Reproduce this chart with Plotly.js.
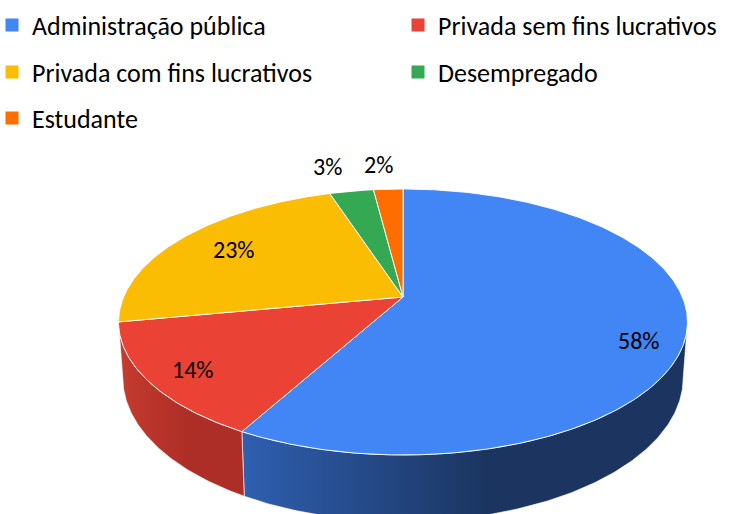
<!DOCTYPE html>
<html>
<head>
<meta charset="utf-8">
<script src="https://cdn.plot.ly/plotly-3.0.1.min.js"></script>
<style>html,body{margin:0;padding:0;background:#fff;}#chart{width:731px;height:514px;}</style>
</head>
<body>
<div id="chart"></div>
<script>
// ---- data ----
const categories = ['Administração pública', 'Privada sem fins lucrativos', 'Privada com fins lucrativos', 'Desempregado', 'Estudante'];
const values = [58, 14, 23, 3, 2];

// ---- styles / layout config ----
const colors = ['#4285F4', '#EA4335', '#FBBC04', '#34A853', '#FF6D01'];
const sideColors = [['#2F5FB0', '#1B3560'], ['#C63B2F', '#AD2E26'], ['#C99700', '#A07800'], ['#2A8744', '#216B36'], ['#CC5700', '#A34600']];
const legendPos = [[-8, 25], [398, 25], [-8, 72], [398, 72], [-8, 118]]; // px of each legend entry
const labelNudge = [[5, 8], [-7, -4], [13, -5], [0, 0], [0, 0]];        // px fine-tuning of in-slice labels
const W = 731, H = 514;

// ---- 3D pie geometry (perspective view of a tilted disk) ----
const geo = {x0: 403, y0: 297, A: 279.4, B: 128.3, k: 0.188, depth: 54, bottomScale: 0.985};
function proj(r, theta, drop, scale) {
  const u = r * Math.sin(theta), v = r * Math.cos(theta);
  const w = 1 + geo.k * v;
  return [geo.x0 + geo.A * scale * u / w, geo.y0 - geo.B * v / w + drop / w];
}
function arc(t0, t1, drop, scale) {
  const n = Math.max(4, Math.ceil(Math.abs(t1 - t0) / 0.01));
  const pts = [];
  for (let i = 0; i <= n; i++) pts.push(proj(1, t0 + (t1 - t0) * i / n, drop, scale));
  return pts;
}

const total = values.reduce((a, b) => a + b, 0);
const starts = [], ends = [];
let acc = 0;
values.forEach(v => { starts.push(acc / total * 2 * Math.PI); acc += v; ends.push(acc / total * 2 * Math.PI); });

const traces = [];
// visible side (front half)
const tRight = Math.acos(-geo.k), tLeft = 2 * Math.PI - Math.acos(-geo.k);
values.forEach((v, i) => {
  const a = Math.max(starts[i], tRight), b = Math.min(ends[i], tLeft);
  if (b <= a) return;
  const top = arc(a, b, 0, 1);
  const bot = arc(b, a, geo.depth, geo.bottomScale);
  const pts = top.concat(bot);
  pts.push(top[0]);
  traces.push({
    type: 'scatter', mode: 'lines', x: pts.map(p => p[0]), y: pts.map(p => p[1]),
    fill: 'toself', fillcolor: sideColors[i][0],
    fillgradient: {type: 'horizontal', colorscale: [[0, sideColors[i][0]], [0.55, sideColors[i][1]], [1, sideColors[i][1]]]},
    line: {color: 'rgba(255,255,255,0.8)', width: 0.8},
    hoverinfo: 'skip', showlegend: false
  });
});
// top face slices
values.forEach((v, i) => {
  const pts = [[geo.x0, geo.y0]].concat(arc(starts[i], ends[i], 0, 1));
  pts.push([geo.x0, geo.y0]);
  traces.push({
    type: 'scatter', mode: 'lines', x: pts.map(p => p[0]), y: pts.map(p => p[1]),
    fill: 'toself', fillcolor: colors[i],
    line: {color: 'rgba(255,255,255,0.9)', width: 1},
    hoverinfo: 'skip', showlegend: false
  });
});

const font = 'Carlito, Lato, sans-serif';
// legend entries: one legend per entry so they sit in the reference's grid
const layoutLegends = {};
categories.forEach((c, i) => {
  const id = i === 0 ? 'legend' : 'legend' + (i + 1);
  traces.push({
    type: 'scatter', mode: 'markers', x: [null], y: [null], name: c,
    marker: {symbol: 'square', size: 13, color: colors[i]},
    legend: id, hoverinfo: 'skip'
  });
  layoutLegends[id] = {
    orientation: 'h', x: legendPos[i][0] / W, xanchor: 'left', y: 1 - legendPos[i][1] / H, yanchor: 'middle',
    font: {family: font, size: 26, color: '#000'}, bgcolor: 'rgba(0,0,0,0)', borderwidth: 0,
    itemclick: false, itemdoubleclick: false
  };
});

// data labels
const annotations = [];
const outside = [];
values.forEach((v, i) => {
  const mid = (starts[i] + ends[i]) / 2;
  const txt = Math.round(v / total * 100) + '%';
  if (v / total >= 0.05) {
    const p = proj(0.82, mid, 8, 1);
    annotations.push({x: p[0] + labelNudge[i][0], y: p[1] + labelNudge[i][1], text: txt, showarrow: false, xref: 'x', yref: 'y',
      font: {family: font, size: 24, color: '#000'}});
  } else {
    const p = proj(1, mid, 0, 1);
    outside.push({x: p[0] - 10, y: p[1] - 8, text: txt});
  }
});
outside.sort((a, b) => b.x - a.x);
for (let j = 1; j < outside.length; j++) {
  if (outside[j - 1].x - outside[j].x < 51) outside[j].x = outside[j - 1].x - 51;
}
outside.forEach(o => annotations.push({x: o.x, y: o.y, text: o.text, showarrow: false, xref: 'x', yref: 'y',
  yanchor: 'bottom', font: {family: font, size: 24, color: '#000'}}));

const layout = Object.assign({
  width: W, height: H,
  margin: {l: 0, r: 0, t: 0, b: 0, pad: 0, autoexpand: false},
  paper_bgcolor: '#fff', plot_bgcolor: '#fff',
  xaxis: {range: [0, W], visible: false, fixedrange: true},
  yaxis: {range: [H, 0], visible: false, fixedrange: true},
  showlegend: true,
  annotations: annotations
}, layoutLegends);
Plotly.newPlot('chart', traces, layout, {staticPlot: true, displayModeBar: false});
</script>
</body>
</html>
